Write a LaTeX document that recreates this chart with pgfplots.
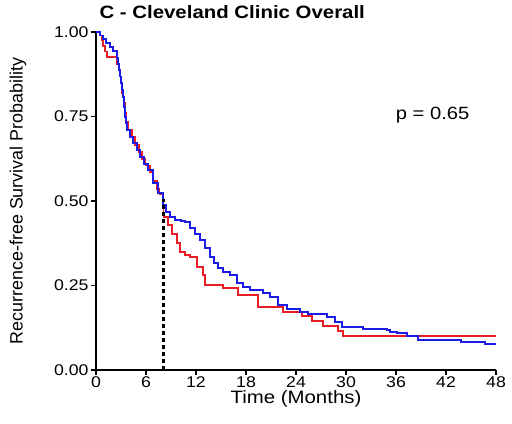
\documentclass[border=0pt]{standalone}
\usepackage{pgfplots}
\pgfplotsset{compat=1.18}
\usepackage{fontspec}
\setmainfont[FakeStretch=1.14]{Liberation Sans}
\newfontfamily\plainfont{Liberation Sans}
\definecolor{kmred}{RGB}{232,30,36}
\definecolor{kmblue}{RGB}{28,28,230}
\begin{document}
\begin{tikzpicture}
\begin{axis}[
  name=ax,
  scale only axis, width=400pt, height=338pt,
  xmin=0, xmax=48, ymin=0, ymax=1,
  axis x line=bottom, axis y line=left,
  axis line style={-, line width=1.3pt},
  tick align=outside, major tick length=5pt,
  tick style={line width=1.1pt, black},
  xtick={0,6,...,48}, ytick={0,0.25,0.5,0.75,1},
  yticklabel style={/pgf/number format/fixed, /pgf/number format/precision=2, /pgf/number format/fixed zerofill, xshift=1pt},
  /pgf/number format/assume math mode=true,
  ticklabel style={font=\fontsize{15.5}{17}\selectfont},
  xticklabel style={yshift=2pt},
  clip=false,
]
\addplot[const plot, kmred, line width=1.6pt] coordinates {
(0,1.0) (0.45,0.99) (0.65,0.975) (0.85,0.958) (1.05,0.942) (1.3,0.926)
(2.55,0.905) (2.8,0.875) (2.95,0.85) (3.15,0.82) (3.3,0.79) (3.5,0.76)
(3.65,0.735) (3.85,0.71) (4.3,0.69) (4.7,0.665) (5.15,0.645) (5.55,0.625)
(5.95,0.605) (6.5,0.585) (6.9,0.56) (7.3,0.535) (7.6,0.52) (8.0,0.509)
(8.1,0.453) (8.64,0.429) (9.12,0.402) (9.72,0.376) (10.08,0.349) (10.68,0.340)
(11.28,0.334) (12.12,0.305) (12.84,0.281) (13.08,0.251) (15.24,0.243)
(17.04,0.222) (19.44,0.186) (22.44,0.172) (24.72,0.160) (25.92,0.145)
(27.24,0.130) (29.04,0.115) (29.64,0.101) (48,0.101)
};
\addplot[const plot, kmblue, line width=1.6pt] coordinates {
(0,1.0) (0.48,0.99) (0.84,0.98) (1.2,0.967) (1.68,0.956) (2.04,0.944)
(2.52,0.923) (2.64,0.905) (2.76,0.888) (2.88,0.868) (3.0,0.849) (3.12,0.828)
(3.24,0.808) (3.36,0.778) (3.48,0.749) (3.6,0.73) (3.72,0.710) (4.08,0.689)
(4.44,0.672) (4.92,0.651) (5.28,0.630) (5.76,0.609) (6.24,0.592) (6.84,0.553)
(7.44,0.524) (8.04,0.488) (8.4,0.467) (8.88,0.453) (9.48,0.444) (10.2,0.441)
(10.68,0.438) (11.28,0.420) (11.88,0.402) (12.48,0.385) (13.08,0.361)
(13.68,0.334) (14.16,0.317) (14.64,0.302) (15.24,0.290) (16.08,0.281)
(16.92,0.257) (17.64,0.246) (18.48,0.237) (20.04,0.228) (20.88,0.216)
(21.84,0.192) (22.92,0.180) (24.48,0.172) (25.44,0.166) (27.72,0.157)
(28.68,0.142) (29.52,0.127) (32.04,0.121) (34.92,0.118) (35.28,0.112)
(36.12,0.109) (37.32,0.101) (38.64,0.089) (43.8,0.083) (46.68,0.077) (48,0.077)
};
\addplot[black, line width=2.4pt, dash pattern=on 4pt off 3pt] coordinates {(8.1,0) (8.1,0.505)};
\node[font=\fontsize{17.7}{20}\selectfont] at (axis cs:40.4,0.754) {p = 0.65};
\node[anchor=base west, font=\bfseries\fontsize{17.9}{20}\selectfont] at ([xshift=0pt,yshift=13pt]axis description cs:0,1) {C - Cleveland Clinic Overall};
\node[rotate=90, font=\plainfont\fontsize{17.9}{20}\selectfont] at ([xshift=-78pt]axis description cs:0,0.5) {Recurrence-free Survival Probability};
\node[font=\fontsize{17.9}{20}\selectfont] at ([yshift=-29pt]axis description cs:0.5,0) {Time (Months)};
\end{axis}
\pgfresetboundingbox
\path ([shift={(-96pt,-53pt)}]ax.south west) rectangle ([shift={(16pt,32pt)}]ax.north east);
\end{tikzpicture}
\end{document}
